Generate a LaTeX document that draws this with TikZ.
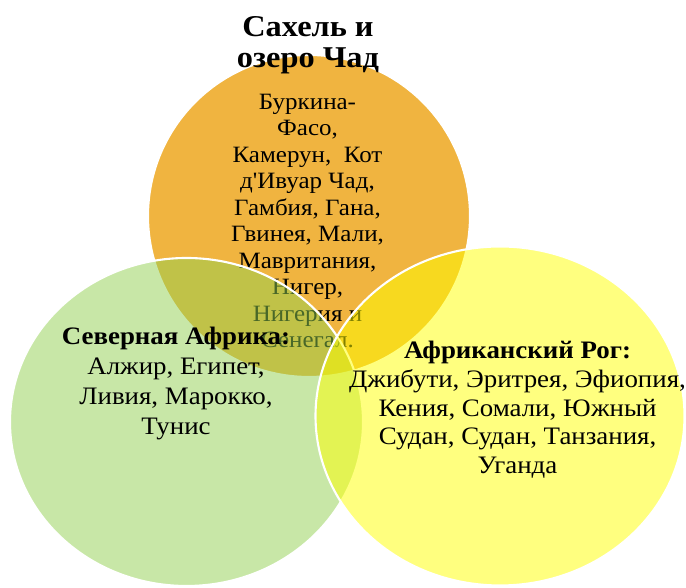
\documentclass[tikz,border=0pt]{standalone}
\usepackage{fontspec}
\setmainfont{Liberation Serif}
\usepackage{tikz}
\usetikzlibrary{shapes.geometric}
\definecolor{sahel}{HTML}{F0B440}
\definecolor{north}{HTML}{92D050}
\definecolor{horn}{HTML}{FFFF00}
\tikzstyle{region} = [ellipse, draw=white, line width=1.2pt, fill opacity=0.5, draw opacity=1, inner sep=0pt]
\tikzstyle{label} = [text centered, align=center, inner sep=0pt, anchor=base, xscale=1.07]

\begin{document}
\begin{tikzpicture}
\useasboundingbox (0,0) rectangle (13.72,11.76);
\node [region, fill=sahel, fill opacity=1, minimum width=6.44cm, minimum height=6.44cm] (sahelset) at (6.18,7.44) {};
\node [label, font=\fontsize{17.2}{18.2}\selectfont\bfseries] (saheltitle) at (6.16,10.40) {Сахель и\\озеро Чад};
\node [label, font=\fontsize{13.3}{15.1}\selectfont] (sahellist) at (6.15,4.80) {Буркина-\\Фасо,\\Камерун,~~Кот\\д\textquotesingle Ивуар Чад,\\Гамбия, Гана,\\Гвинея, Мали,\\Мавритания,\\Нигер,\\Нигерия и\\Сенегал.};
\node [region, fill=north, minimum width=7.06cm, minimum height=6.56cm] (northset) at (3.73,3.32) {};
\node [label, font=\fontsize{14.3}{17.1}\selectfont] (northlist) at (3.52,3.06) {\textbf{Северная Африка:}\\Алжир, Египет,\\Ливия, Марокко,\\Тунис};
\node [region, fill=horn, minimum width=7.38cm, minimum height=6.78cm] (hornset) at (10.00,3.44) {};
\node [label, font=\fontsize{14.3}{16.5}\selectfont] (hornlist) at (10.35,2.28) {\textbf{Африканский Рог:}\\Джибути, Эритрея, Эфиопия,\\Кения, Сомали, Южный\\Судан, Судан, Танзания,\\Уганда};
\end{tikzpicture}
\end{document}
